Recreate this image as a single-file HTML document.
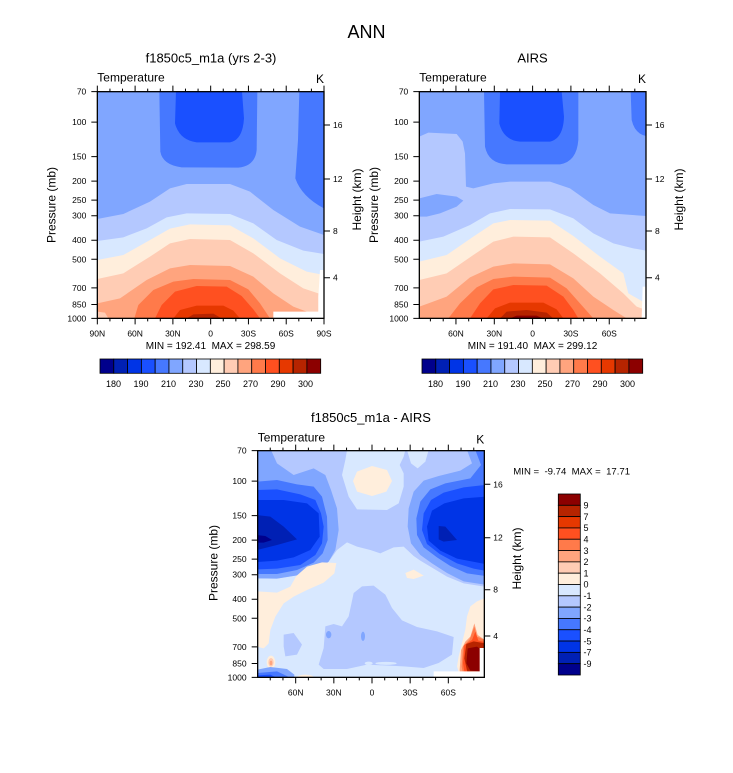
<!DOCTYPE html>
<html><head><meta charset="utf-8"><style>
html,body{margin:0;padding:0;background:#fff;}
svg{display:block;}
text{font-family:"Liberation Sans",Arial,sans-serif;fill:#000;}
.z1{fill:#00008c}.z2{fill:#0020b4}.z3{fill:#0034e6}.z4{fill:#1a50ff}
.z5{fill:#4678ff}.z6{fill:#80a6ff}.z7{fill:#b4c8ff}.z8{fill:#d8e8ff}
.z9{fill:#ffeedc}.z10{fill:#ffccb4}.z11{fill:#ffa47e}.z12{fill:#ff7a4a}
.z13{fill:#ff5020}.z14{fill:#e63800}.z15{fill:#b62400}.z16{fill:#8c0000}
.tk{fill:none;stroke:#000;stroke-width:1}
.bx{fill:none;stroke:#000;stroke-width:1.3}
.tl{font-size:8.5px}
.cb rect{stroke:#000;stroke-width:0.8}
</style></head><body>
<svg width="733" height="773" viewBox="0 0 733 773" xmlns="http://www.w3.org/2000/svg">
<rect width="733" height="773" fill="#fff"/>
<text x="366.5" y="38" font-size="18" text-anchor="middle">ANN</text>

<!-- ================= TOP LEFT ================= -->
<text x="211" y="62.5" font-size="13" text-anchor="middle">f1850c5_m1a (yrs 2-3)</text>
<text x="97.3" y="81.5" font-size="12">Temperature</text>
<text x="324" y="83" font-size="12" text-anchor="end">K</text>
<svg x="97.33" y="91.67" width="226.67" height="226.67" viewBox="172 155 680 680" preserveAspectRatio="none">
<rect x="172" y="155" width="680" height="680" class="z6"/>
<path class="z5" d="M358,155 L361,335 Q368,375 425,382 L595,383 Q645,378 650,330 L652,155 Z"/>
<path class="z5" d="M778,155 L774,300 L766,415 Q785,470 852,505 L852,155 Z"/>
<path class="z4" d="M408,155 L405,250 Q418,300 470,307 L570,307 Q608,300 612,235 L606,155 Z"/>
<path class="z7" d="M172,537 L250,522 L330,485 L390,445 L440,432 L570,432 L630,455 L700,510 L780,560 L852,585 L852,835 L172,835 Z"/>
<path class="z8" d="M172,603 L250,592 L320,565 L380,532 L440,520 L570,522 L640,550 L710,600 L790,632 L852,642 L852,835 L172,835 Z"/>
<path class="z9" d="M172,660 L250,645 L330,600 L390,566 L450,553 L570,556 L640,595 L720,655 L800,695 L852,705 L852,835 L172,835 Z"/>
<path class="z10" d="M172,717 L250,700 L330,650 L390,610 L450,597 L570,600 L640,640 L720,700 L790,745 L835,760 L835,835 L172,835 Z"/>
<path class="z11" d="M172,790 L240,775 L320,720 L390,685 L450,675 L570,678 L640,710 L700,760 L760,800 L800,815 L800,835 L172,835 Z"/>
<path class="z10" d="M172,815 L195,818 L205,835 L172,835 Z"/>
<path class="z12" d="M283,835 L295,795 L340,750 L400,725 L460,717 L570,720 L625,748 L660,790 L690,835 Z"/>
<path class="z13" d="M345,835 L365,795 L405,755 L470,738 L560,740 L605,768 L640,808 L660,835 Z"/>
<path class="z14" d="M400,835 L420,810 L470,797 L550,797 L580,812 L600,835 Z"/>
<path class="z15" d="M440,835 L460,823 L520,821 L545,835 Z"/>
<path fill="#fff" d="M700,815 L835,815 L835,770 L840,690 L852,690 L852,835 L700,835 Z"/>
</svg>
<rect x="97.33" y="91.67" width="226.67" height="226.67" class="bx"/>
<path class="tk" d="M97.33 91.67v-6M135.11 91.67v-6M172.89 91.67v-6M210.67 91.67v-6M248.44 91.67v-6M286.22 91.67v-6M324 91.67v-6
M109.93 91.67v-3M122.52 91.67v-3M147.7 91.67v-3M160.3 91.67v-3M185.48 91.67v-3M198.07 91.67v-3M223.26 91.67v-3M235.85 91.67v-3M261.04 91.67v-3M273.63 91.67v-3M298.81 91.67v-3M311.41 91.67v-3
M97.33 318.33v6M135.11 318.33v6M172.89 318.33v6M210.67 318.33v6M248.44 318.33v6M286.22 318.33v6M324 318.33v6
M109.93 318.33v3M122.52 318.33v3M147.7 318.33v3M160.3 318.33v3M185.48 318.33v3M198.07 318.33v3M223.26 318.33v3M235.85 318.33v3M261.04 318.33v3M273.63 318.33v3M298.81 318.33v3M311.41 318.33v3
M97.33 91.67h-6M97.33 122.07h-6M97.33 156.63h-6M97.33 181.15h-6M97.33 200.17h-6M97.33 215.71h-6M97.33 240.23h-6M97.33 259.26h-6M97.33 287.93h-6M97.33 304.49h-6M97.33 318.33h-6
M324 125h6M324 179h6M324 231h6M324 277.7h6"/>
<g class="tl" text-anchor="end">
<text x="86.3" y="94.7">70</text><text x="86.3" y="125.1">100</text><text x="86.3" y="159.6">150</text><text x="86.3" y="184.2">200</text><text x="86.3" y="203.2">250</text><text x="86.3" y="218.7">300</text><text x="86.3" y="243.2">400</text><text x="86.3" y="262.3">500</text><text x="86.3" y="290.9">700</text><text x="86.3" y="307.5">850</text><text x="86.3" y="321.3">1000</text>
</g>
<g class="tl"><text x="333" y="128">16</text><text x="333" y="182">12</text><text x="333" y="234">8</text><text x="333" y="280.7">4</text></g>
<g class="tl" text-anchor="middle">
<text x="97.33" y="336.5">90N</text><text x="135.11" y="336.5">60N</text><text x="172.89" y="336.5">30N</text><text x="210.67" y="336.5">0</text><text x="248.44" y="336.5">30S</text><text x="286.22" y="336.5">60S</text><text x="324" y="336.5">90S</text>
</g>
<text transform="translate(55.5,205) rotate(-90)" font-size="12" text-anchor="middle">Pressure (mb)</text>
<text transform="translate(361,199.5) rotate(-90)" font-size="12" text-anchor="middle">Height (km)</text>
<text x="210.5" y="349" font-size="10" text-anchor="middle" xml:space="preserve">MIN = 192.41  MAX = 298.59</text>

<g class="cb" id="cbar">
<rect x="100" y="359" width="13.79" height="14.3" class="z1"/>
<rect x="113.79" y="359" width="13.79" height="14.3" class="z2"/>
<rect x="127.59" y="359" width="13.79" height="14.3" class="z3"/>
<rect x="141.38" y="359" width="13.79" height="14.3" class="z4"/>
<rect x="155.17" y="359" width="13.79" height="14.3" class="z5"/>
<rect x="168.97" y="359" width="13.79" height="14.3" class="z6"/>
<rect x="182.76" y="359" width="13.79" height="14.3" class="z7"/>
<rect x="196.55" y="359" width="13.79" height="14.3" class="z8"/>
<rect x="210.34" y="359" width="13.79" height="14.3" class="z9"/>
<rect x="224.14" y="359" width="13.79" height="14.3" class="z10"/>
<rect x="237.93" y="359" width="13.79" height="14.3" class="z11"/>
<rect x="251.72" y="359" width="13.79" height="14.3" class="z12"/>
<rect x="265.52" y="359" width="13.79" height="14.3" class="z13"/>
<rect x="279.31" y="359" width="13.79" height="14.3" class="z14"/>
<rect x="293.1" y="359" width="13.79" height="14.3" class="z15"/>
<rect x="306.9" y="359" width="13.79" height="14.3" class="z16"/>
</g>
<g font-size="9" text-anchor="middle">
<text x="113.5" y="387">180</text><text x="141" y="387">190</text><text x="168.5" y="387">210</text><text x="196" y="387">230</text><text x="223" y="387">250</text><text x="250.5" y="387">270</text><text x="278" y="387">290</text><text x="305.5" y="387">300</text>
</g>

<!-- ================= TOP RIGHT ================= -->
<text x="532.5" y="62.5" font-size="13" text-anchor="middle">AIRS</text>
<text x="419.3" y="81.5" font-size="12">Temperature</text>
<text x="646" y="83" font-size="12" text-anchor="end">K</text>
<svg x="419.33" y="91.67" width="226.67" height="226.67" viewBox="178 155 680 680" preserveAspectRatio="none">
<rect x="178" y="155" width="680" height="680" class="z6"/>
<path class="z5" d="M372,155 L375,320 Q385,370 440,373 L600,373 Q650,365 655,300 L655,155 Z"/>
<path class="z5" d="M812,155 L815,240 Q825,282 858,288 L858,155 Z"/>
<path class="z4" d="M420,155 L418,250 Q430,300 480,305 L570,305 Q610,295 612,230 L605,155 Z"/>
<path class="z7" d="M178,290 L205,278 L290,282 L308,305 L315,340 L318,440 L340,445 L400,430 L450,425 L570,425 L630,445 L700,495 L750,520 L858,528 L858,835 L178,835 Z"/>
<path class="z6" d="M178,475 L230,462 L290,470 L310,482 L290,500 L240,520 L200,530 L178,530 Z"/>
<path class="z8" d="M178,605 L250,590 L330,555 L390,520 L450,507 L570,508 L640,535 L700,580 L760,610 L820,625 L858,632 L858,835 L178,835 Z"/>
<path class="z9" d="M178,665 L260,645 L340,590 L400,550 L450,540 L570,542 L640,588 L720,650 L790,700 L805,760 L840,780 L858,790 L858,835 L178,835 Z"/>
<path class="z10" d="M178,720 L260,700 L340,645 L400,605 L460,590 L570,592 L640,640 L720,700 L790,760 L830,800 L858,810 L858,835 L178,835 Z"/>
<path class="z11" d="M178,800 L200,792 L260,770 L330,712 L400,680 L460,670 L570,673 L640,715 L700,770 L760,810 L800,835 L178,835 Z"/>
<path class="z12" d="M265,835 L300,790 L350,742 L400,717 L460,710 L570,713 L620,745 L660,790 L700,835 Z"/>
<path class="z13" d="M330,835 L360,790 L400,748 L460,735 L560,737 L610,770 L640,810 L655,835 Z"/>
<path class="z14" d="M380,835 L405,805 L450,788 L550,788 L590,808 L610,835 Z"/>
<path class="z15" d="M420,835 L440,815 L500,810 L560,818 L580,835 Z"/>
<path class="z16" d="M450,835 L470,827 L530,827 L548,835 Z"/>
<path fill="#fff" d="M848,740 L858,740 L858,835 L845,835 Z"/>
</svg>
<rect x="419.33" y="91.67" width="226.67" height="226.67" class="bx"/>
<path class="tk" d="M455.95 91.67v-6M494.3 91.67v-6M532.6 91.67v-6M570.9 91.67v-6M609.25 91.67v-6
M430.4 91.67v-3M443.2 91.67v-3M468.7 91.67v-3M481.5 91.67v-3M507.05 91.67v-3M519.8 91.67v-3M545.4 91.67v-3M558.15 91.67v-3M583.7 91.67v-3M596.5 91.67v-3M622 91.67v-3M634.8 91.67v-3
M455.95 318.33v6M494.3 318.33v6M532.6 318.33v6M570.9 318.33v6M609.25 318.33v6
M430.4 318.33v3M443.2 318.33v3M468.7 318.33v3M481.5 318.33v3M507.05 318.33v3M519.8 318.33v3M545.4 318.33v3M558.15 318.33v3M583.7 318.33v3M596.5 318.33v3M622 318.33v3M634.8 318.33v3
M419.33 91.67h-6M419.33 122.07h-6M419.33 156.63h-6M419.33 181.15h-6M419.33 200.17h-6M419.33 215.71h-6M419.33 240.23h-6M419.33 259.26h-6M419.33 287.93h-6M419.33 304.49h-6M419.33 318.33h-6
M646 125h6M646 179h6M646 231h6M646 277.7h6"/>
<g class="tl" text-anchor="end">
<text x="408.3" y="94.7">70</text><text x="408.3" y="125.1">100</text><text x="408.3" y="159.6">150</text><text x="408.3" y="184.2">200</text><text x="408.3" y="203.2">250</text><text x="408.3" y="218.7">300</text><text x="408.3" y="243.2">400</text><text x="408.3" y="262.3">500</text><text x="408.3" y="290.9">700</text><text x="408.3" y="307.5">850</text><text x="408.3" y="321.3">1000</text>
</g>
<g class="tl"><text x="655" y="128">16</text><text x="655" y="182">12</text><text x="655" y="234">8</text><text x="655" y="280.7">4</text></g>
<g class="tl" text-anchor="middle">
<text x="455.95" y="336.5">60N</text><text x="494.3" y="336.5">30N</text><text x="532.6" y="336.5">0</text><text x="570.9" y="336.5">30S</text><text x="609.25" y="336.5">60S</text>
</g>
<text transform="translate(378,205) rotate(-90)" font-size="12" text-anchor="middle">Pressure (mb)</text>
<text transform="translate(683,199.5) rotate(-90)" font-size="12" text-anchor="middle">Height (km)</text>
<text x="532.5" y="349" font-size="10" text-anchor="middle" xml:space="preserve">MIN = 191.40  MAX = 299.12</text>

<g class="cb" transform="translate(322,0)">
<rect x="100" y="359" width="13.79" height="14.3" class="z1"/>
<rect x="113.79" y="359" width="13.79" height="14.3" class="z2"/>
<rect x="127.59" y="359" width="13.79" height="14.3" class="z3"/>
<rect x="141.38" y="359" width="13.79" height="14.3" class="z4"/>
<rect x="155.17" y="359" width="13.79" height="14.3" class="z5"/>
<rect x="168.97" y="359" width="13.79" height="14.3" class="z6"/>
<rect x="182.76" y="359" width="13.79" height="14.3" class="z7"/>
<rect x="196.55" y="359" width="13.79" height="14.3" class="z8"/>
<rect x="210.34" y="359" width="13.79" height="14.3" class="z9"/>
<rect x="224.14" y="359" width="13.79" height="14.3" class="z10"/>
<rect x="237.93" y="359" width="13.79" height="14.3" class="z11"/>
<rect x="251.72" y="359" width="13.79" height="14.3" class="z12"/>
<rect x="265.52" y="359" width="13.79" height="14.3" class="z13"/>
<rect x="279.31" y="359" width="13.79" height="14.3" class="z14"/>
<rect x="293.1" y="359" width="13.79" height="14.3" class="z15"/>
<rect x="306.9" y="359" width="13.79" height="14.3" class="z16"/>
</g>
<g font-size="9" text-anchor="middle" transform="translate(322,0)">
<text x="113.5" y="387">180</text><text x="141" y="387">190</text><text x="168.5" y="387">210</text><text x="196" y="387">230</text><text x="223" y="387">250</text><text x="250.5" y="387">270</text><text x="278" y="387">290</text><text x="305.5" y="387">300</text>
</g>

<!-- ================= BOTTOM ================= -->
<text x="371" y="422" font-size="13" text-anchor="middle">f1850c5_m1a - AIRS</text>
<text x="257.7" y="441.5" font-size="12">Temperature</text>
<text x="484.3" y="443.5" font-size="12" text-anchor="end">K</text>
<svg x="257.67" y="450.67" width="226.67" height="226.67" viewBox="2 2 680 680" preserveAspectRatio="none">
<rect x="0" y="0" width="684" height="684" class="z8"/>
<path class="z7" d="M0,0 L684,0 L684,410 L620,400 L570,380 L520,350 L490,332 L470,318 L440,290 L410,292 L370,310 L340,300 L300,290 L270,277 L240,300 L215,335 L180,360 L120,376 L60,386 L0,385 Z"/>
<path class="z8" d="M270,0 L445,0 L440,20 L428,45 L440,70 L440,110 L425,160 L390,180 L300,178 L275,140 L255,75 L265,30 Z"/>
<path class="z8" d="M450,0 L515,0 L505,35 L482,55 L462,40 Z"/>
<path class="z9" d="M288,93 L300,65 L345,48 L390,60 L405,93 L388,125 L345,138 L300,125 Z"/>
<!-- left blob -->
<path class="z6" d="M0,0 L42,0 L60,40 L110,75 L170,55 L205,75 L222,120 L240,175 L245,240 L235,300 L215,335 L180,360 L120,376 L60,386 L0,385 Z"/>
<path class="z5" d="M0,95 L60,90 L120,103 L170,110 L195,140 L210,200 L212,270 L197,310 L170,338 L120,360 L60,372 L0,372 Z"/>
<path class="z4" d="M0,120 L60,118 L130,133 L175,150 L192,190 L200,230 L195,280 L175,315 L130,345 L60,356 L0,358 Z"/>
<path class="z3" d="M0,150 L80,150 L150,160 L185,190 L188,260 L160,300 L110,322 L60,332 L0,336 Z"/>
<path class="z2" d="M0,195 L40,200 L80,230 L120,268 L60,285 L0,300 Z"/>
<path class="z1" d="M0,255 L25,258 L45,270 L20,278 L0,278 Z"/>
<!-- right blob -->
<path class="z6" d="M630,0 L645,40 L610,62 L545,78 L500,92 L470,125 L455,175 L452,230 L462,280 L490,315 L525,340 L570,369 L620,394 L684,404 L684,0 Z"/>
<path class="z5" d="M655,0 L672,45 L640,85 L565,100 L520,118 L490,155 L478,205 L480,255 L500,292 L540,322 L580,348 L630,370 L684,378 L684,0 Z"/>
<path class="z4" d="M684,105 L620,112 L560,128 L522,150 L500,190 L495,240 L510,282 L548,312 L600,340 L650,356 L684,362 Z"/>
<path class="z3" d="M684,140 L620,145 L562,160 L525,182 L510,230 L515,272 L550,302 L600,326 L684,342 Z"/>
<path class="z2" d="M545,228 L565,230 L600,270 L560,275 L545,268 Z"/>
<!-- lower half -->
<path class="z9" d="M0,424 L60,428 L100,410 L118,378 L150,350 L195,337 L238,339 L232,370 L200,398 L150,420 L110,440 L80,460 L55,500 L40,540 L35,580 L20,595 L0,590 Z"/>
<ellipse cx="42" cy="637" rx="13" ry="20" class="z9"/>
<ellipse cx="42" cy="637" rx="8" ry="13" class="z10"/>
<ellipse cx="42" cy="639" rx="4" ry="7" class="z11"/>
<path class="z7" d="M185,644 L200,594 L205,529 L230,522 L255,529 L275,499 L290,429 L315,409 L350,407 L385,434 L405,474 L435,511 L480,531 L540,544 L590,561 L585,614 L545,639 L500,654 L440,649 L330,644 L270,657 L200,657 Z"/>
<path class="z7" d="M80,554 L110,549 L135,584 L120,614 L85,619 L80,589 Z"/>
<ellipse cx="215" cy="554" rx="8" ry="11" class="z6"/>
<ellipse cx="318" cy="559" rx="6" ry="14" class="z6"/>
<ellipse cx="335" cy="640" rx="12" ry="5" class="z8"/>
<ellipse cx="387" cy="640" rx="32" ry="4.5" class="z8"/>
<path class="z6" d="M0,659 L40,651 L90,657 L112,674 L112,684 L0,684 Z"/>
<path class="z5" d="M0,669 L60,664 L92,679 L92,684 L0,684 Z"/>
<path class="z4" d="M0,676 L40,674 L60,684 L0,684 Z"/>
<ellipse cx="145" cy="682" rx="25" ry="8" class="z9"/>
<path class="z9" d="M445,369 L470,359 L500,377 L470,387 L450,384 Z"/>
<path class="z9" d="M684,444 L660,454 L640,469 L630,499 L625,539 L615,579 L605,619 L600,649 L610,684 L684,684 Z"/>
<path class="z11" d="M608,660 L612,600 L625,575 L640,560 L652,520 L662,555 L684,570 L684,684 L610,684 Z"/>
<path class="z12" d="M614,650 L618,590 L638,568 L652,530 L660,560 L684,570 L684,684 L620,684 Z"/>
<path class="z13" d="M618,640 L622,585 L645,570 L655,545 L664,572 L684,576 L684,684 L625,684 Z"/>
<path class="z15" d="M622,625 L628,582 L650,574 L684,580 L684,684 L635,684 Z"/>
<path class="z16" d="M628,640 L632,595 L660,590 L668,595 L668,664 L640,662 Z"/>
<path fill="#fff" d="M530,664 L668,664 L668,594 L684,594 L684,684 L530,684 Z"/>
</svg>
<rect x="257.67" y="450.67" width="226.67" height="226.67" class="bx"/>
<path class="tk" d="M295.68 450.67v-6M333.84 450.67v-6M372 450.67v-6M410.16 450.67v-6M448.32 450.67v-6
M270.24 450.67v-3M282.96 450.67v-3M308.4 450.67v-3M321.12 450.67v-3M346.56 450.67v-3M359.28 450.67v-3M384.72 450.67v-3M397.44 450.67v-3M422.88 450.67v-3M435.6 450.67v-3M461.04 450.67v-3M473.76 450.67v-3
M295.68 677.33v6M333.84 677.33v6M372 677.33v6M410.16 677.33v6M448.32 677.33v6
M270.24 677.33v3M282.96 677.33v3M308.4 677.33v3M321.12 677.33v3M346.56 677.33v3M359.28 677.33v3M384.72 677.33v3M397.44 677.33v3M422.88 677.33v3M435.6 677.33v3M461.04 677.33v3M473.76 677.33v3
M257.67 450.67h-6M257.67 481.07h-6M257.67 515.63h-6M257.67 540.15h-6M257.67 559.17h-6M257.67 574.71h-6M257.67 599.23h-6M257.67 618.26h-6M257.67 646.93h-6M257.67 663.49h-6M257.67 677.33h-6
M484.33 484.3h6M484.33 537.7h6M484.33 589.7h6M484.33 636h6"/>
<g class="tl" text-anchor="end">
<text x="246.6" y="453.7">70</text><text x="246.6" y="484.1">100</text><text x="246.6" y="518.6">150</text><text x="246.6" y="543.2">200</text><text x="246.6" y="562.2">250</text><text x="246.6" y="577.7">300</text><text x="246.6" y="602.2">400</text><text x="246.6" y="621.3">500</text><text x="246.6" y="649.9">700</text><text x="246.6" y="666.5">850</text><text x="246.6" y="680.3">1000</text>
</g>
<g class="tl"><text x="493.3" y="487.3">16</text><text x="493.3" y="540.7">12</text><text x="493.3" y="592.7">8</text><text x="493.3" y="639">4</text></g>
<g class="tl" text-anchor="middle">
<text x="295.68" y="695.5">60N</text><text x="333.84" y="695.5">30N</text><text x="372" y="695.5">0</text><text x="410.16" y="695.5">30S</text><text x="448.32" y="695.5">60S</text>
</g>
<text transform="translate(217.5,563) rotate(-90)" font-size="12" text-anchor="middle">Pressure (mb)</text>
<text transform="translate(521,558.5) rotate(-90)" font-size="12" text-anchor="middle">Height (km)</text>
<text x="513.3" y="474.3" font-size="9.6" xml:space="preserve">MIN =  -9.74  MAX =  17.71</text>

<g class="cb">
<rect x="558.3" y="494" width="22" height="11.31" class="z16"/>
<rect x="558.3" y="505.31" width="22" height="11.31" class="z15"/>
<rect x="558.3" y="516.63" width="22" height="11.31" class="z14"/>
<rect x="558.3" y="527.94" width="22" height="11.31" class="z13"/>
<rect x="558.3" y="539.25" width="22" height="11.31" class="z12"/>
<rect x="558.3" y="550.56" width="22" height="11.31" class="z11"/>
<rect x="558.3" y="561.88" width="22" height="11.31" class="z10"/>
<rect x="558.3" y="573.19" width="22" height="11.31" class="z9"/>
<rect x="558.3" y="584.5" width="22" height="11.31" class="z8"/>
<rect x="558.3" y="595.81" width="22" height="11.31" class="z7"/>
<rect x="558.3" y="607.13" width="22" height="11.31" class="z6"/>
<rect x="558.3" y="618.44" width="22" height="11.31" class="z5"/>
<rect x="558.3" y="629.75" width="22" height="11.31" class="z4"/>
<rect x="558.3" y="641.06" width="22" height="11.31" class="z3"/>
<rect x="558.3" y="652.38" width="22" height="11.31" class="z2"/>
<rect x="558.3" y="663.69" width="22" height="11.31" class="z1"/>
</g>
<g font-size="9">
<text x="583.5" y="508.5">9</text><text x="583.5" y="519.8">7</text><text x="583.5" y="531.1">5</text><text x="583.5" y="542.4">4</text><text x="583.5" y="553.8">3</text><text x="583.5" y="565.1">2</text><text x="583.5" y="576.4">1</text><text x="583.5" y="587.7">0</text><text x="583.5" y="599">-1</text><text x="583.5" y="610.3">-2</text><text x="583.5" y="621.6">-3</text><text x="583.5" y="632.9">-4</text><text x="583.5" y="644.3">-5</text><text x="583.5" y="655.6">-7</text><text x="583.5" y="666.9">-9</text>
</g>
</svg>
</body></html>
